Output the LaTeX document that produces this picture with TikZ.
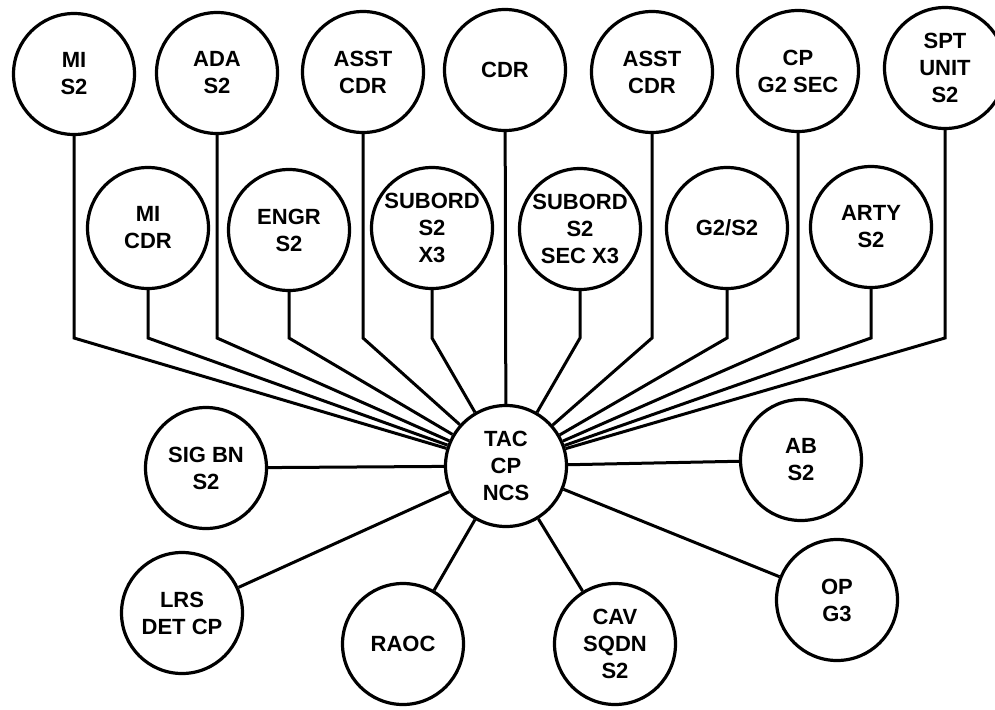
\documentclass[tikz,border=0pt]{standalone}
\usepackage{fontspec}
\setmainfont{Liberation Sans}
\begin{document}
\begin{tikzpicture}[x=1pt,y=-1pt,
  unit/.style={circle,draw,line width=3.2pt,minimum size=121pt,inner sep=0pt,align=center,
    font=\fontsize{22}{27}\selectfont\bfseries},
  link/.style={line width=3pt,line join=miter}]
\useasboundingbox (0,0) rectangle (995,709);
% top row
\node[unit] (mis2) at (74,74) {MI\\S2};
\node[unit] (adas2) at (217,73) {ADA\\S2};
\node[unit] (asst1) at (363,72) {ASST\\CDR};
\node[unit] (cdr) at (505,70) {CDR};
\node[unit] (asst2) at (652,72) {ASST\\CDR};
\node[unit] (cpg2) at (798,71) {CP\\G2 SEC};
\node[unit] (spt) at (945,68) {SPT\\UNIT\\S2};
% second row
\node[unit] (micdr) at (148,228) {MI\\CDR};
\node[unit] (engr) at (289,230) {ENGR\\S2};
\node[unit] (sub1) at (432,228) {SUBORD\\S2\\X3};
\node[unit] (sub2) at (580,229) {SUBORD\\S2\\SEC X3};
\node[unit] (g2s2) at (727,228) {G2/S2};
\node[unit] (arty) at (871,227) {ARTY\\S2};
% hub
\node[unit] (tac) at (506,466) {TAC\\CP\\NCS};
% lower ring
\node[unit] (sig) at (206,468) {SIG BN\\S2};
\node[unit] (ab) at (801,460) {AB\\S2};
\node[unit] (lrs) at (182,613) {LRS\\DET CP};
\node[unit] (raoc) at (403,644) {RAOC};
\node[unit] (cav) at (615,644) {CAV\\SQDN\\S2};
\node[unit] (op) at (837,600) {OP\\G3};
\coordinate (bend) at (0,338);
% fan-in connectors
\foreach \n in {mis2,adas2,asst1,asst2,cpg2,spt,micdr,engr,sub1,sub2,g2s2,arty}
  \draw[link] (\n) -- (\n |- bend) -- (tac);
\draw[link] (cdr) -- (tac);
\foreach \n in {sig,ab,lrs,raoc,cav,op}
  \draw[link] (\n) -- (tac);
\end{tikzpicture}
\end{document}
